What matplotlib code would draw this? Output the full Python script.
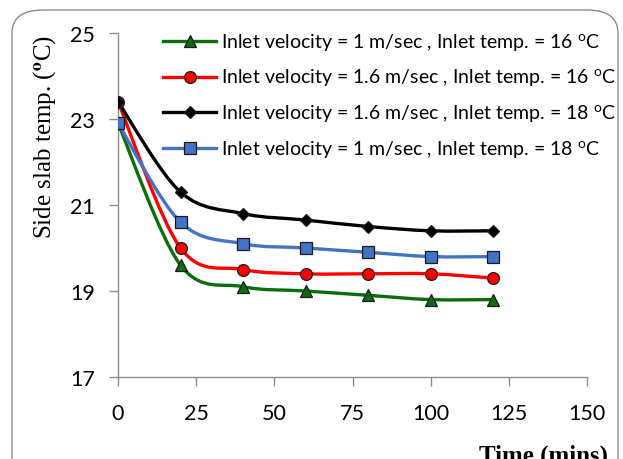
import matplotlib
matplotlib.use("Agg")
import matplotlib.pyplot as plt
from matplotlib.path import Path
from matplotlib.patches import PathPatch, FancyBboxPatch
from matplotlib.lines import Line2D
import numpy as np

# ---- data ----
time_min = [0, 20, 40, 60, 80, 100, 120]
v1_t16 = [22.9, 19.6, 19.1, 19.0, 18.9, 18.8, 18.8]
v16_t16 = [23.4, 20.0, 19.5, 19.4, 19.4, 19.4, 19.3]
v16_t18 = [23.4, 21.3, 20.8, 20.65, 20.5, 20.4, 20.4]
v1_t18 = [22.9, 20.6, 20.1, 20.0, 19.9, 19.8, 19.8]

labels = [
    r"Inlet velocity = 1 m/sec , Inlet temp. = 16 $^{\mathrm{o}}$C",
    r"Inlet velocity = 1.6 m/sec , Inlet temp. = 16 $^{\mathrm{o}}$C",
    r"Inlet velocity = 1.6 m/sec , Inlet temp. = 18 $^{\mathrm{o}}$C",
    r"Inlet velocity = 1 m/sec , Inlet temp. = 18 $^{\mathrm{o}}$C",
]
x_ticks = [0, 25, 50, 75, 100, 125, 150]
y_ticks = [17, 19, 21, 23, 25]

plt.rcParams["mathtext.fontset"] = "custom"
plt.rcParams["mathtext.rm"] = "Lato"

W, H = 623, 460
fig = plt.figure(figsize=(W / 100, H / 100), dpi=100)

# rounded outer frame
frame = FancyBboxPatch((12 / W, -0.2), (606) / W, 1.2 - 11 / H,
                       boxstyle="round,pad=0,rounding_size=0.05",
                       transform=fig.transFigure, fill=False,
                       edgecolor="#8a8a8a", linewidth=1.0)
fig.patches.append(frame)

ax = fig.add_axes([118 / W, 1 - 378 / H, (587 - 118) / W, (378 - 34) / H])
ax.set_xlim(0, 150)
ax.set_ylim(17, 25)
for s in ("top", "right"):
    ax.spines[s].set_visible(False)
for s in ("left", "bottom"):
    ax.spines[s].set_color("#8c8c8c")
    ax.spines[s].set_linewidth(1.0)
ax.set_xticks(x_ticks)
ax.set_yticks(y_ticks)
ax.tick_params(axis="both", direction="out", length=6.5, width=1.0,
               color="#8c8c8c", labelsize=15.5)
ax.tick_params(axis="x", pad=12)
ax.tick_params(axis="y", pad=10)
for lab in ax.get_xticklabels() + ax.get_yticklabels():
    lab.set_fontfamily("Lato")


def smooth_path(xs, ys):
    """Cubic Bezier path through the points (Catmull-Rom style tangents)."""
    pts = np.column_stack([xs, ys]).astype(float)
    n = len(pts)
    verts = [pts[0]]
    codes = [Path.MOVETO]
    for i in range(n - 1):
        p0 = pts[i - 1] if i > 0 else pts[i]
        p1 = pts[i]
        p2 = pts[i + 1]
        p3 = pts[i + 2] if i + 2 < n else pts[i + 1]
        c1 = p1 + (p2 - p0) / 6.0
        c2 = p2 - (p3 - p1) / 6.0
        verts += [c1, c2, p2]
        codes += [Path.CURVE4] * 3
    return Path(verts, codes)


series = [
    (v1_t16, "#0a6e0a", "^", 8.5, "#0a6e0a"),
    (v16_t16, "#ff0000", "o", 8.5, "#ff0000"),
    (v16_t18, "#000000", "D", 6.5, "#000000"),
    (v1_t18, "#4472c4", "s", 8.0, "#4472c4"),
]

handles = []
for (vals, col, mk, ms, fc), lab in zip(series, labels):
    patch = PathPatch(smooth_path(time_min, vals), facecolor="none",
                      edgecolor=col, linewidth=2.4, zorder=2,
                      capstyle="round", joinstyle="round")
    ax.add_patch(patch)
for (vals, col, mk, ms, fc), lab in zip(series, labels):
    ax.plot(time_min, vals, linestyle="none", marker=mk, markersize=ms,
            markerfacecolor=fc, markeredgecolor="#1a1a1a",
            markeredgewidth=0.9, zorder=3)
    handles.append(Line2D([], [], color=col, linewidth=2.4, marker=mk,
                          markersize=ms, markerfacecolor=fc,
                          markeredgecolor="#1a1a1a", markeredgewidth=0.9))

leg = fig.legend(handles, labels, loc="upper left",
                 bbox_to_anchor=(163 / W, 1 - 32 / H), frameon=False,
                 borderpad=0, borderaxespad=0, handlelength=2.75,
                 handletextpad=0.25, labelspacing=0.72,
                 prop={"family": "Lato", "size": 14})

fig.text(45 / W, 1 - 137 / H, r"Side slab temp. ($^{\mathbf{o}}$C)",
         rotation=90, ha="center", va="center",
         fontfamily="Liberation Serif", fontsize=18, math_fontfamily="stix")
fig.text(608 / W, 1 - 445 / H, "Time (mins)", ha="right", va="top",
         fontfamily="Liberation Serif", fontweight="bold", fontsize=18)

fig.savefig("out.png", dpi=100)
